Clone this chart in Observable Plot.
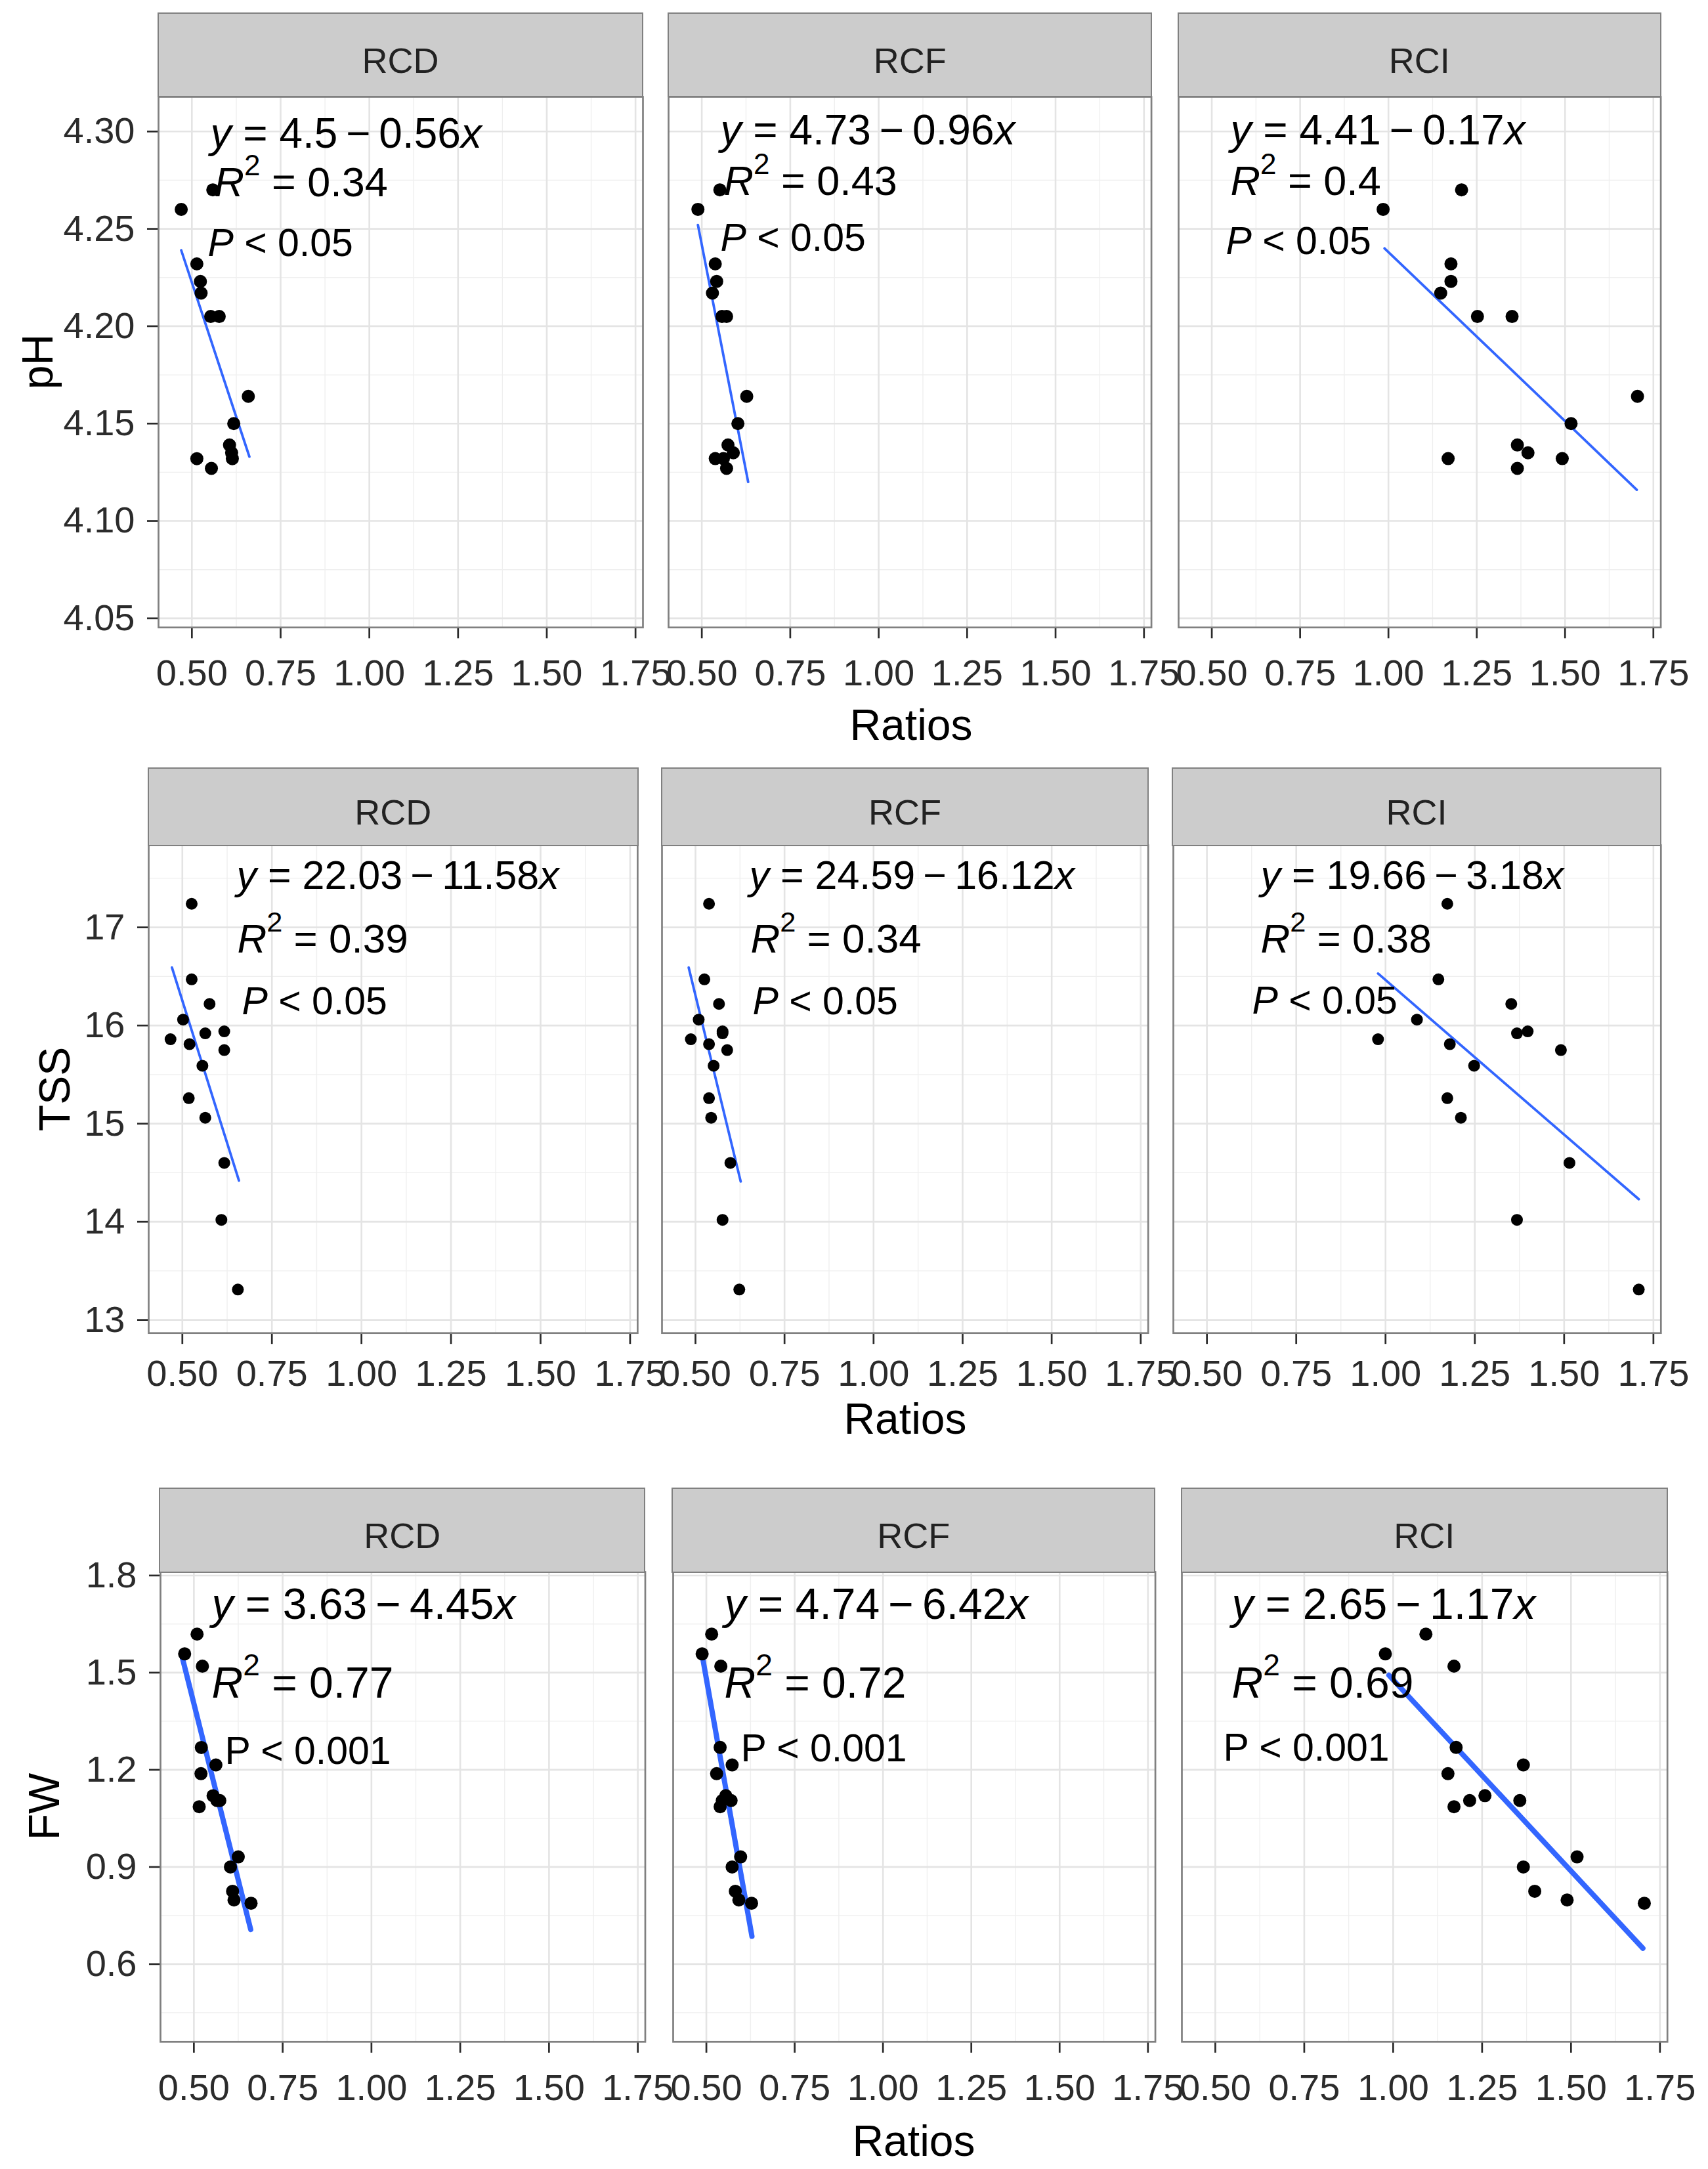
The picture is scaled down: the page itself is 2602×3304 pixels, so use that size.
<!DOCTYPE html>
<html>
<head>
<meta charset="utf-8">
<script src="https://cdn.jsdelivr.net/npm/d3@7"></script>
<script src="https://cdn.jsdelivr.net/npm/@observablehq/plot@0.6"></script>
<style>
  html, body { margin: 0; padding: 0; background: #fff; }
  #chart { position: relative; width: 2602px; height: 3304px; background: #fff; overflow: hidden;
           font-family: "Liberation Sans", Arial, Helvetica, sans-serif; }
  .strip { position: absolute; box-sizing: border-box; background: #cccccc; border: 2.7px solid #808080;
           display: flex; align-items: center; justify-content: center; padding-top: 16px;
           font-size: 54px; color: #222; }
  .atitle { position: absolute; font-size: 66px; color: #000; white-space: nowrap; line-height: 1; }
</style>
</head>
<body>
<div id="chart"></div>
<script>
// ---------------- data ----------------
const groups = ["RCD", "RCF", "RCI"];
const variables = ["pH", "TSS", "FW"];
const xTitle = "Ratios";
const xTicks = [0.5, 0.75, 1.0, 1.25, 1.5, 1.75];
const xMinor = [0.625, 0.875, 1.125, 1.375, 1.625];
const xDomain = [0.406, 1.771];

// pH row (same samples in each panel, x = ratio of each group)
const pH_y   = [4.260, 4.270, 4.232, 4.223, 4.217, 4.205, 4.205, 4.164, 4.150, 4.139, 4.135, 4.132, 4.132, 4.127];
const pH_RCD = [0.470, 0.559, 0.514, 0.524, 0.526, 0.553, 0.577, 0.659, 0.618, 0.606, 0.612, 0.514, 0.614, 0.555];
const pH_RCF = [0.489, 0.551, 0.538, 0.542, 0.530, 0.557, 0.570, 0.627, 0.602, 0.574, 0.589, 0.538, 0.561, 0.570];
const pH_RCI = [0.985, 1.207, 1.177, 1.177, 1.148, 1.252, 1.350, 1.705, 1.517, 1.365, 1.395, 1.169, 1.492, 1.365];
const pH_fitX = [[0.470, 0.662], [0.489, 0.631], [0.989, 1.703]];
const pH_fitY = [[4.239, 4.133], [4.252, 4.120], [4.240, 4.116]];
const pH_eq = ["{y} = 4.5\u2009\u2212\u20090.56{x}", "{y} = 4.73\u2009\u2212\u20090.96{x}", "{y} = 4.41\u2009\u2212\u20090.17{x}"];
const pH_r2 = ["0.34", "0.43", "0.4"];
const pH_p  = ["{P} < 0.05", "{P} < 0.05", "{P} < 0.05"];
const pH_ticks = [4.05, 4.10, 4.15, 4.20, 4.25, 4.30];
const pH_minor = [4.075, 4.125, 4.175, 4.225, 4.275];
const pH_domain = [4.0453, 4.3178];

// TSS row
const TSS_y   = [17.24, 16.47, 16.22, 16.06, 15.86, 15.81, 15.92, 15.94, 15.75, 15.59, 15.26, 15.06, 14.60, 14.02, 13.31];
const TSS_RCD = [0.526, 0.526, 0.576, 0.502, 0.467, 0.520, 0.564, 0.617, 0.617, 0.556, 0.518, 0.564, 0.617, 0.609, 0.655];
const TSS_RCF = [0.538, 0.525, 0.566, 0.509, 0.487, 0.538, 0.576, 0.576, 0.589, 0.551, 0.538, 0.544, 0.598, 0.576, 0.623];
const TSS_RCI = [1.173, 1.148, 1.352, 1.088, 0.979, 1.180, 1.368, 1.398, 1.491, 1.248, 1.173, 1.211, 1.515, 1.368, 1.709];
const TSS_fitX = [[0.471, 0.658], [0.481, 0.627], [0.979, 1.709]];
const TSS_fitY = [[16.59, 14.42], [16.59, 14.41], [16.53, 14.23]];
const TSS_eq = ["{y} = 22.03\u2009\u2212\u200911.58{x}", "{y} = 24.59\u2009\u2212\u200916.12{x}", "{y} = 19.66\u2009\u2212\u20093.18{x}"];
const TSS_r2 = ["0.39", "0.34", "0.38"];
const TSS_p  = ["{P} < 0.05", "{P} < 0.05", "{P} < 0.05"];
const TSS_ticks = [13, 14, 15, 16, 17];
const TSS_minor = [13.5, 14.5, 15.5, 16.5, 17.5];
const TSS_domain = [12.866, 17.837];

// FW row
const FW_y   = [1.619, 1.558, 1.520, 1.269, 1.215, 1.188, 1.120, 1.105, 1.086, 1.105, 0.931, 0.900, 0.825, 0.798, 0.788];
const FW_RCD = [0.509, 0.474, 0.524, 0.521, 0.562, 0.520, 0.554, 0.573, 0.515, 0.565, 0.625, 0.603, 0.609, 0.613, 0.661];
const FW_RCF = [0.515, 0.488, 0.541, 0.539, 0.573, 0.529, 0.555, 0.570, 0.539, 0.545, 0.597, 0.573, 0.582, 0.592, 0.628];
const FW_RCI = [1.092, 0.978, 1.171, 1.177, 1.366, 1.154, 1.258, 1.215, 1.171, 1.356, 1.517, 1.366, 1.398, 1.489, 1.706];
const FW_fitX = [[0.468, 0.660], [0.487, 0.629], [0.988, 1.702]];
const FW_fitY = [[1.544, 0.707], [1.561, 0.686], [1.492, 0.649]];
const FW_eq = ["{y} = 3.63\u2009\u2212\u20094.45{x}", "{y} = 4.74\u2009\u2212\u20096.42{x}", "{y} = 2.65\u2009\u2212\u20091.17{x}"];
const FW_r2 = ["0.77", "0.72", "0.69"];
const FW_p  = ["P < 0.001", "P < 0.001", "P < 0.001"];
const FW_ticks = [0.6, 0.9, 1.2, 1.5, 1.8];
const FW_minor = [0.45, 0.75, 1.05, 1.35, 1.65];
const FW_domain = [0.360, 1.811];

// ---------------- assemble ----------------
const rowsData = [
  {name: "pH",  y: pH_y,  xs: [pH_RCD, pH_RCF, pH_RCI],  fitX: pH_fitX,  fitY: pH_fitY,  eq: pH_eq,  r2: pH_r2,  p: pH_p,
   ticks: pH_ticks, minor: pH_minor, domain: pH_domain, fmt: d3.format(".2f")},
  {name: "TSS", y: TSS_y, xs: [TSS_RCD, TSS_RCF, TSS_RCI], fitX: TSS_fitX, fitY: TSS_fitY, eq: TSS_eq, r2: TSS_r2, p: TSS_p,
   ticks: TSS_ticks, minor: TSS_minor, domain: TSS_domain, fmt: d3.format("d")},
  {name: "FW",  y: FW_y,  xs: [FW_RCD, FW_RCF, FW_RCI],  fitX: FW_fitX,  fitY: FW_fitY,  eq: FW_eq,  r2: FW_r2,  p: FW_p,
   ticks: FW_ticks, minor: FW_minor, domain: FW_domain, fmt: d3.format(".1f")}
];

// layout (pixel geometry / styling only)
const layout = [
  {stripTop: 20.5, top: 146.7, bottom: 955, lefts: [241, 1018.4, 1794.9], rights: [979, 1754, 2529.5],
   tickPad: 31, titleX: 57, titleY: 551, ratiosX: 1388, ratiosY: 1104, r: 10, lw: 3.8,
   eqF: 64, r2F: 63, pF: 59,
   eqPos: [[79, 78], [79, 73], [79, 73]], r2Pos: [[85, 152], [84, 150], [79, 150]], pPos: [[75, 243], [79, 235], [72, 240]]},
  {stripTop: 1170, top: 1287.3, bottom: 2030.5, lefts: [226.4, 1008.2, 1786.7], rights: [971.3, 1748.9, 2529.5],
   tickPad: 24, titleX: 83, titleY: 1659, ratiosX: 1379, ratiosY: 2161, r: 9, lw: 3.8,
   eqF: 61, r2F: 62, pF: 59,
   eqPos: [[134, 67], [133, 67], [133, 67]], r2Pos: [[135, 164], [135, 164], [133, 164]], pPos: [[142, 258], [138, 258], [120, 257]]},
  {stripTop: 2267.7, top: 2394.4, bottom: 3110.2, lefts: [243.6, 1024.5, 1800], rights: [982.1, 1759.1, 2539.7],
   tickPad: 32, titleX: 67, titleY: 2752, ratiosX: 1392, ratiosY: 3261, r: 10, lw: 8,
   eqF: 66, r2F: 66, pF: 59,
   eqPos: [[78, 72], [78, 72], [76, 72]], r2Pos: [[78, 192], [78, 192], [76, 192]], pPos: [[98, 293], [103, 289], [63, 288]]}
];

const chart = document.getElementById("chart");
const FONT = '"Liberation Sans", Arial, Helvetica, sans-serif';
const mL = 230, mR = 60, mT = 10, mB = 130;

function richify(svg) {
  for (const t of svg.querySelectorAll("text")) {
    const s = t.textContent;
    if (!/[{^]/.test(s)) continue;
    const fs = parseFloat(getComputedStyle(t).fontSize);
    const parts = s.split(/(\{[^}]*\}|\^[^^]*\^)/).filter(d => d);
    t.textContent = "";
    let shift = 0;
    for (const p of parts) {
      const ts = document.createElementNS("http://www.w3.org/2000/svg", "tspan");
      if (p[0] === "^") {
        ts.textContent = p.slice(1, -1);
        ts.setAttribute("font-size", (fs * 0.7).toFixed(1));
        ts.setAttribute("dy", (-0.52 * fs).toFixed(1));
        shift = 0.52 * fs;
      } else {
        if (p[0] === "{") { ts.textContent = p.slice(1, -1); ts.setAttribute("font-style", "italic"); }
        else ts.textContent = p;
        if (shift) { ts.setAttribute("dy", shift.toFixed(1)); shift = 0; }
      }
      t.appendChild(ts);
    }
  }
}

rowsData.forEach((row, ri) => {
  const L = layout[ri];
  const H = L.bottom - L.top;
  groups.forEach((g, ci) => {
    const W = L.rights[ci] - L.lefts[ci];
    const pts = row.y.map((v, i) => ({x: row.xs[ci][i], y: v}));
    const fit = row.fitX[ci].map((v, i) => ({x: v, y: row.fitY[ci][i]}));
    const marks = [
      Plot.gridX(xMinor, {stroke: "#efefef", strokeOpacity: 1, strokeWidth: 1.4}),
      Plot.gridY(row.minor, {stroke: "#efefef", strokeOpacity: 1, strokeWidth: 1.4}),
      Plot.gridX(xTicks, {stroke: "#e4e4e4", strokeOpacity: 1, strokeWidth: 2.6}),
      Plot.gridY(row.ticks, {stroke: "#e4e4e4", strokeOpacity: 1, strokeWidth: 2.6}),
      Plot.axisX(xTicks, {tickSize: 17, tickPadding: L.tickPad, tickFormat: d3.format(".2f"), strokeWidth: 2.7, label: null}),
      ci === 0 ? Plot.axisY(row.ticks, {tickSize: 17, tickPadding: 19, tickFormat: row.fmt, strokeWidth: 2.7, label: null}) : null,
      Plot.line(fit, {x: "x", y: "y", stroke: "#3366ff", strokeWidth: L.lw}),
      Plot.dot(pts, {x: "x", y: "y", r: L.r, fill: "#000"}),
      Plot.frame({stroke: "#808080", strokeWidth: 2.7}),
      Plot.text([row.eq[ci]], {text: d => d, frameAnchor: "top-left", textAnchor: "start", lineAnchor: "bottom",
        dx: L.eqPos[ci][0], dy: L.eqPos[ci][1], fontSize: L.eqF, fill: "#000"}),
      Plot.text([row.r2[ci]], {text: d => "{R}^2^ = " + d, frameAnchor: "top-left", textAnchor: "start", lineAnchor: "bottom",
        dx: L.r2Pos[ci][0], dy: L.r2Pos[ci][1], fontSize: L.r2F, fill: "#000"}),
      Plot.text([row.p[ci]], {text: d => d, frameAnchor: "top-left", textAnchor: "start", lineAnchor: "bottom",
        dx: L.pPos[ci][0], dy: L.pPos[ci][1], fontSize: L.pF, fill: "#000"})
    ].filter(Boolean);
    const svg = Plot.plot({
      width: W + mL + mR, height: H + mT + mB,
      marginLeft: mL, marginRight: mR, marginTop: mT, marginBottom: mB,
      x: {domain: xDomain, axis: null},
      y: {domain: row.domain, axis: null},
      style: {background: "transparent", overflow: "visible", fontFamily: FONT, fontSize: "56px", color: "#2b2b2b"},
      marks
    });
    svg.style.position = "absolute";
    svg.style.left = (L.lefts[ci] - mL) + "px";
    svg.style.top = (L.top - mT) + "px";
    svg.style.maxWidth = "none";
    svg.style.overflow = "visible";
    chart.appendChild(svg);
    richify(svg);

    const strip = document.createElement("div");
    strip.className = "strip";
    strip.textContent = g;
    strip.style.left = (L.lefts[ci] - 1.35) + "px";
    strip.style.top = (L.stripTop - 1.35) + "px";
    strip.style.width = (W + 2.7) + "px";
    strip.style.height = (L.top - L.stripTop + 2.7) + "px";
    chart.appendChild(strip);
  });

  const yt = document.createElement("div");
  yt.className = "atitle";
  yt.textContent = row.name;
  yt.style.left = L.titleX + "px";
  yt.style.top = L.titleY + "px";
  yt.style.transform = "translate(-50%, -50%) rotate(-90deg)";
  chart.appendChild(yt);

  const xt = document.createElement("div");
  xt.className = "atitle";
  xt.textContent = xTitle;
  xt.style.left = L.ratiosX + "px";
  xt.style.top = L.ratiosY + "px";
  xt.style.transform = "translate(-50%, -50%)";
  chart.appendChild(xt);
});
</script>
</body>
</html>
